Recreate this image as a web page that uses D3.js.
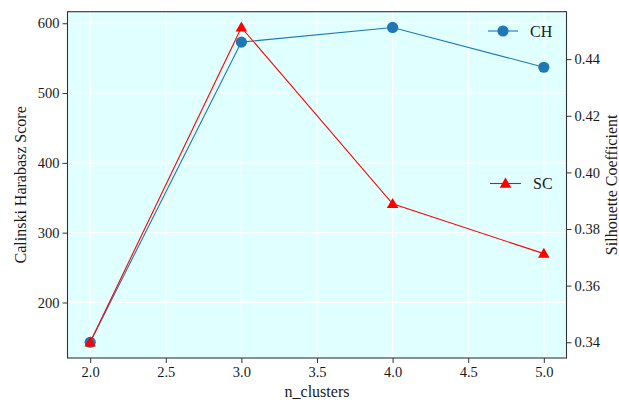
<!DOCTYPE html>
<html>
<head>
<meta charset="utf-8">
<script src="https://cdn.jsdelivr.net/npm/d3@7"></script>
<style>
  html, body { margin: 0; padding: 0; background: #fff; }
  svg { display: block; font-family: "Liberation Serif", "Times New Roman", serif; }
</style>
</head>
<body>
<svg id="chart" width="619" height="403"></svg>
<script>
// Cluster-count evaluation: Calinski-Harabasz score and Silhouette coefficient
const nClusters = [2, 3, 4, 5];
const chScores = [143, 573, 594, 537];
const scScores = [0.340, 0.4512, 0.3889, 0.3713];
const xTicks = [2.0, 2.5, 3.0, 3.5, 4.0, 4.5, 5.0];
const chTicks = [200, 300, 400, 500, 600];
const scTicks = [0.34, 0.36, 0.38, 0.40, 0.42, 0.44];

const W = 619, H = 403;
const plot = { left: 67.5, right: 566.5, top: 11.7, bottom: 358 };

const svg = d3.select("#chart");

function padded(values) {
  const [lo, hi] = d3.extent(values);
  const m = (hi - lo) * 0.05;
  return [lo - m, hi + m];
}

const x = d3.scaleLinear().domain(padded(nClusters)).range([plot.left, plot.right]);
const yL = d3.scaleLinear().domain(padded(chScores)).range([plot.bottom, plot.top]);
const yR = d3.scaleLinear().domain(padded(scScores)).range([plot.bottom, plot.top]);

const CH_COLOR = "#1f77b4";
const SC_COLOR = "#ff0000";
const TEXT = "#1a1a1a";

// plot background
svg.append("rect")
  .attr("x", plot.left).attr("y", plot.top)
  .attr("width", plot.right - plot.left).attr("height", plot.bottom - plot.top)
  .attr("fill", "#e0ffff");

// white grid from the x axis and the left axis
const grid = svg.append("g").attr("stroke", "#ffffff").attr("stroke-width", 1.3);
grid.selectAll("line.gx").data(xTicks).join("line")
  .attr("x1", d => x(d)).attr("x2", d => x(d))
  .attr("y1", plot.top).attr("y2", plot.bottom);
grid.selectAll("line.gy").data(chTicks).join("line")
  .attr("x1", plot.left).attr("x2", plot.right)
  .attr("y1", d => yL(d)).attr("y2", d => yL(d));

// axes
const tickFont = 14.5;
const xAxis = svg.append("g")
  .attr("transform", `translate(0,${plot.bottom})`)
  .call(d3.axisBottom(x).tickValues(xTicks).tickFormat(d3.format(".1f")).tickSize(5).tickPadding(4));
const leftAxis = svg.append("g")
  .attr("transform", `translate(${plot.left},0)`)
  .call(d3.axisLeft(yL).tickValues(chTicks).tickFormat(d3.format("d")).tickSize(5).tickPadding(3));
const rightAxis = svg.append("g")
  .attr("transform", `translate(${plot.right},0)`)
  .call(d3.axisRight(yR).tickValues(scTicks).tickFormat(d3.format(".2f")).tickSize(5).tickPadding(3));

[xAxis, leftAxis, rightAxis].forEach(a => {
  a.select(".domain").remove();
  a.selectAll(".tick line").attr("stroke", "#333").attr("stroke-width", 1);
  a.selectAll(".tick text")
    .attr("fill", TEXT)
    .style("font-family", "'Liberation Serif', serif")
    .style("font-size", tickFont + "px");
});

// series lines
const chLine = d3.line().x((d, i) => x(nClusters[i])).y(d => yL(d));
const scLine = d3.line().x((d, i) => x(nClusters[i])).y(d => yR(d));

const chG = svg.append("g");
chG.append("path").datum(chScores)
  .attr("d", chLine).attr("fill", "none")
  .attr("stroke", CH_COLOR).attr("stroke-width", 1.1);
chG.selectAll("circle").data(chScores).join("circle")
  .attr("cx", (d, i) => x(nClusters[i])).attr("cy", d => yL(d))
  .attr("r", 5.6).attr("fill", CH_COLOR);

const tri = d3.symbol().type(d3.symbolTriangle).size(58);
const scG = svg.append("g");
scG.append("path").datum(scScores)
  .attr("d", scLine).attr("fill", "none")
  .attr("stroke", SC_COLOR).attr("stroke-width", 1.1);
scG.selectAll("path.m").data(scScores).join("path")
  .attr("class", "m")
  .attr("d", tri)
  .attr("transform", (d, i) => `translate(${x(nClusters[i])},${yR(d) + 0.8})`)
  .attr("fill", SC_COLOR);

// frame
svg.append("rect")
  .attr("x", plot.left).attr("y", plot.top)
  .attr("width", plot.right - plot.left).attr("height", plot.bottom - plot.top)
  .attr("fill", "none").attr("stroke", "#333").attr("stroke-width", 1.1);

// legends
const legFont = 16;
const chLeg = svg.append("g").attr("transform", "translate(488,31)");
chLeg.append("line").attr("x1", 0).attr("x2", 30).attr("stroke", CH_COLOR).attr("stroke-width", 1.1);
chLeg.append("circle").attr("cx", 15).attr("r", 5.6).attr("fill", CH_COLOR);
chLeg.append("text").attr("x", 42).attr("y", 5.5).text("CH")
  .attr("fill", TEXT).style("font-size", legFont + "px");

const scLeg = svg.append("g").attr("transform", "translate(490,183.5)");
scLeg.append("line").attr("x1", 0).attr("x2", 31).attr("stroke", SC_COLOR).attr("stroke-width", 1.1);
scLeg.append("path").attr("d", tri).attr("transform", "translate(15.5,0.8)").attr("fill", SC_COLOR);
scLeg.append("text").attr("x", 43).attr("y", 5.5).text("SC")
  .attr("fill", TEXT).style("font-size", legFont + "px");

// axis titles
const labFont = 16;
svg.append("text")
  .attr("x", (plot.left + plot.right) / 2).attr("y", 397)
  .attr("text-anchor", "middle").attr("fill", TEXT)
  .style("font-size", labFont + "px").text("n_clusters");
svg.append("text")
  .attr("transform", `translate(26,${(plot.top + plot.bottom) / 2}) rotate(-90)`)
  .attr("text-anchor", "middle").attr("fill", TEXT)
  .style("font-size", labFont + "px").text("Calinski Harabasz Score");
svg.append("text")
  .attr("transform", `translate(617,${(plot.top + plot.bottom) / 2}) rotate(-90)`)
  .attr("text-anchor", "middle").attr("fill", TEXT)
  .style("font-size", labFont + "px").text("Silhouette Coefficient");
</script>
</body>
</html>
